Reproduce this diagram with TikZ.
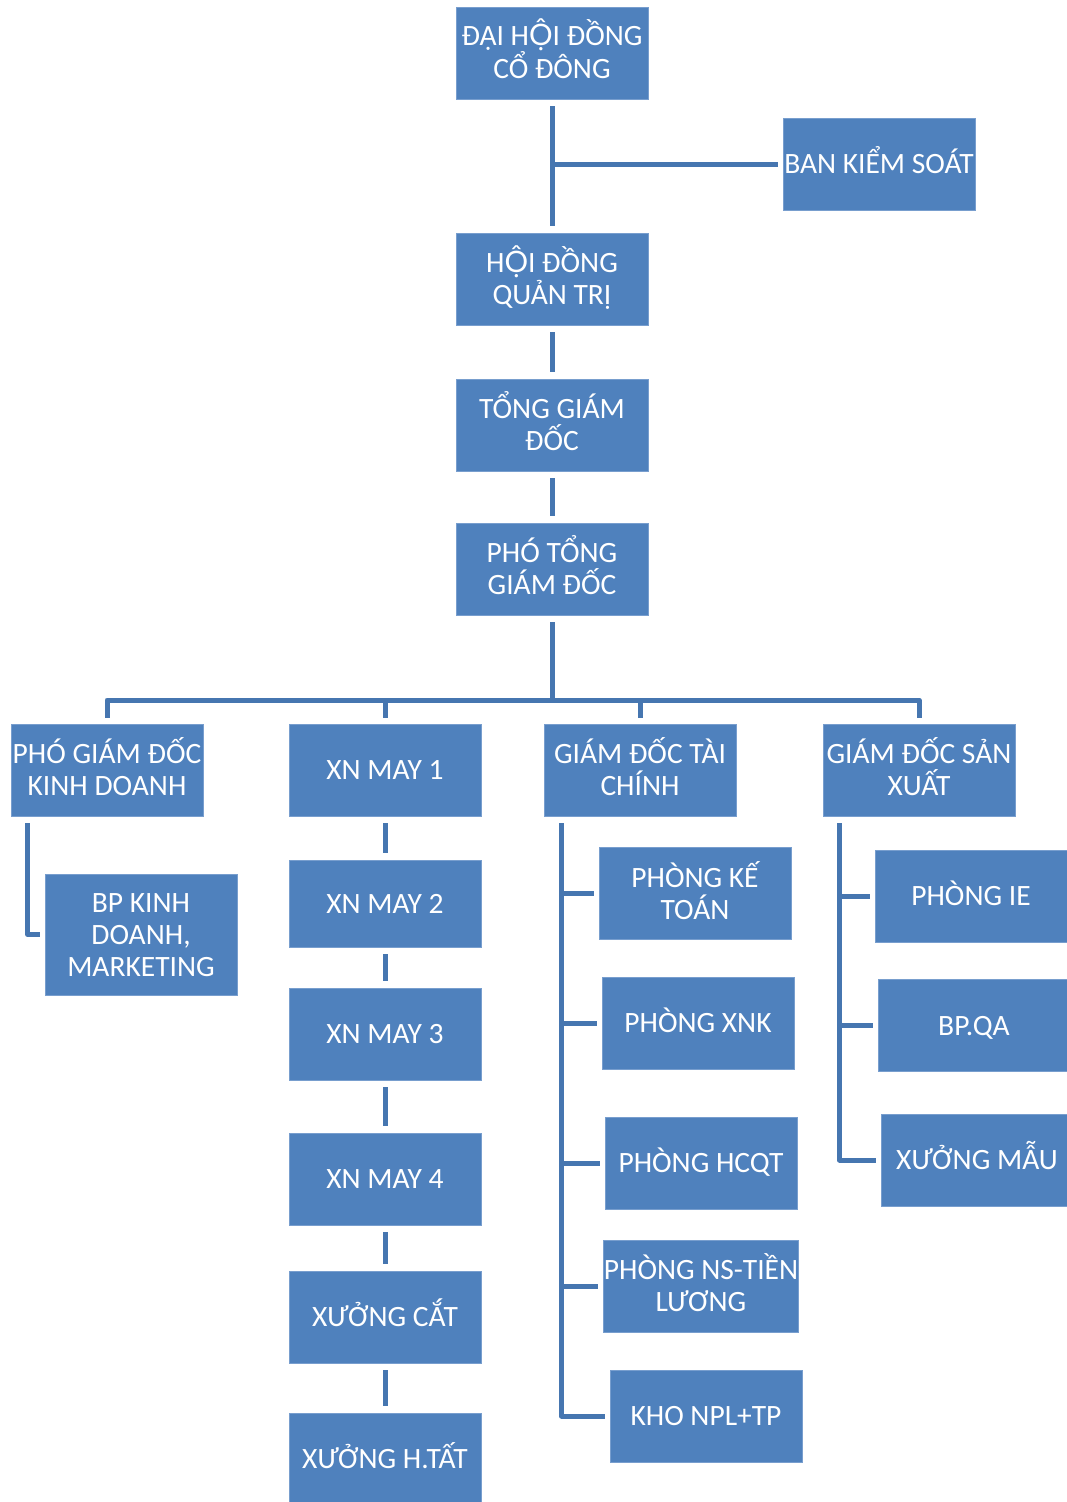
\documentclass[tikz,border=0pt]{standalone}
\usepackage{fontspec}
\setmainfont{Carlito}
\newfontfamily\latof{Lato}
\newcommand{\OO}{{\latof Ộ}}
\usetikzlibrary{calc}
\definecolor{boxfill}{RGB}{79,129,189}
\definecolor{boxline}{RGB}{120,158,206}
\definecolor{connc}{RGB}{70,118,176}
\tikzset{
  orgbox/.style={rectangle, fill=boxfill, draw=boxline, line width=0.8pt,
    minimum width=192pt, minimum height=92pt, inner sep=0pt, text=white,
    align=center, font=\fontsize{29.5}{32}\selectfont, text height=19pt, text depth=0pt},
  two/.style={text height=51pt},
  three/.style={text height=83pt},
  conn/.style={draw=connc, line width=5pt},
  gap/.style={shorten <=7pt, shorten >=7pt}
}
\begin{document}
\begin{tikzpicture}[x=1pt,y=-1pt]
\useasboundingbox (0,0) rectangle (1067,1502);
% top chain
\node[orgbox, two] (dh) at (552,53) {ĐẠI H\OO I ĐỒNG\\CỔ ĐÔNG};
\node[orgbox] (bks) at (879,164) {BAN KIỂM SOÁT};
\node[orgbox, two] (hd) at (552,279) {H\OO I ĐỒNG\\QUẢN TRỊ};
\node[orgbox, two] (tgd) at (552,425) {TỔNG GIÁM\\ĐỐC};
\node[orgbox, two] (ptgd) at (552,569) {PHÓ TỔNG\\GIÁM ĐỐC};
% second row
\node[orgbox, two] (pgdkd) at (107,770) {PHÓ GIÁM ĐỐC\\KINH DOANH};
\node[orgbox] (xn1) at (385,770) {XN MAY 1};
\node[orgbox, two] (gdtc) at (640,770) {GIÁM ĐỐC TÀI\\CHÍNH};
\node[orgbox, two] (gdsx) at (919,770) {GIÁM ĐỐC SẢN\\XUẤT};
% left branch
\node[orgbox, three, minimum height=121pt] (bp) at (141,934.5) {BP KINH\\DOANH,\\MARKETING};
% XN chain
\node[orgbox, minimum height=87pt] (xn2) at (385,903.5) {XN MAY 2};
\node[orgbox] (xn3) at (385,1034) {XN MAY 3};
\node[orgbox] (xn4) at (385,1179) {XN MAY 4};
\node[orgbox] (xc) at (385,1317) {XƯỞNG CẮT};
\node[orgbox] (xht) at (385,1459) {XƯỞNG H.TẤT};
% finance children
\node[orgbox, two] (pkt) at (695,893.5) {PHÒNG KẾ\\TOÁN};
\node[orgbox] (xnk) at (698,1023) {PHÒNG XNK};
\node[orgbox] (hcqt) at (701,1163) {PHÒNG HCQT};
\node[orgbox, two] (ns) at (701,1286) {PHÒNG NS-TIỀN\\LƯƠNG};
\node[orgbox] (kho) at (706,1416) {KHO NPL+TP};
% production children
\node[orgbox] (ie) at (971,896) {PHÒNG IE};
\node[orgbox] (qa) at (974,1025.5) {BP.QA};
\node[orgbox] (xm) at (977,1160) {XƯỞNG MẪU};

% connectors
\draw[conn, gap] (dh.south) -- (hd.north);
\draw[conn, shorten >=5pt] (dh.south |- bks.west) -- (bks.west);
\draw[conn, gap] (hd.south) -- (tgd.north);
\draw[conn, gap] (tgd.south) -- (ptgd.north);
\coordinate (bus) at (552,700);
\draw[conn, shorten <=7pt] (ptgd.south) -- (ptgd.south |- bus);
\draw[conn, line join=round] ($(pgdkd.north)+(0,-6)$) -- (pgdkd.north |- bus) -- (gdsx.north |- bus) -- ($(gdsx.north)+(0,-6)$);
\draw[conn] (xn1.north |- bus) -- ($(xn1.north)+(0,-6)$);
\draw[conn] (gdtc.north |- bus) -- ($(gdtc.north)+(0,-6)$);
% left branch
\draw[conn, line join=round] ($(pgdkd.south west)+(17,7)$) |- ($(bp.west)+(-5,0)$);
% XN chain
\draw[conn, gap] (xn1.south) -- (xn2.north);
\draw[conn, gap] (xn2.south) -- (xn3.north);
\draw[conn, gap] (xn3.south) -- (xn4.north);
\draw[conn, gap] (xn4.south) -- (xc.north);
\draw[conn, gap] (xc.south) -- (xht.north);
% finance
\coordinate (tcx) at ($(gdtc.south west)+(18,7)$);
\draw[conn, line join=round] (tcx) |- ($(kho.west)+(-5,0)$);
\draw[conn] (tcx |- pkt.west) -- ($(pkt.west)+(-5,0)$);
\draw[conn] (tcx |- xnk.west) -- ($(xnk.west)+(-5,0)$);
\draw[conn] (tcx |- hcqt.west) -- ($(hcqt.west)+(-5,0)$);
\draw[conn] (tcx |- ns.west) -- ($(ns.west)+(-5,0)$);
% production
\coordinate (sxx) at ($(gdsx.south west)+(17,7)$);
\draw[conn, line join=round] (sxx) |- ($(xm.west)+(-5,0)$);
\draw[conn] (sxx |- ie.west) -- ($(ie.west)+(-5,0)$);
\draw[conn] (sxx |- qa.west) -- ($(qa.west)+(-5,0)$);
\end{tikzpicture}
\end{document}
